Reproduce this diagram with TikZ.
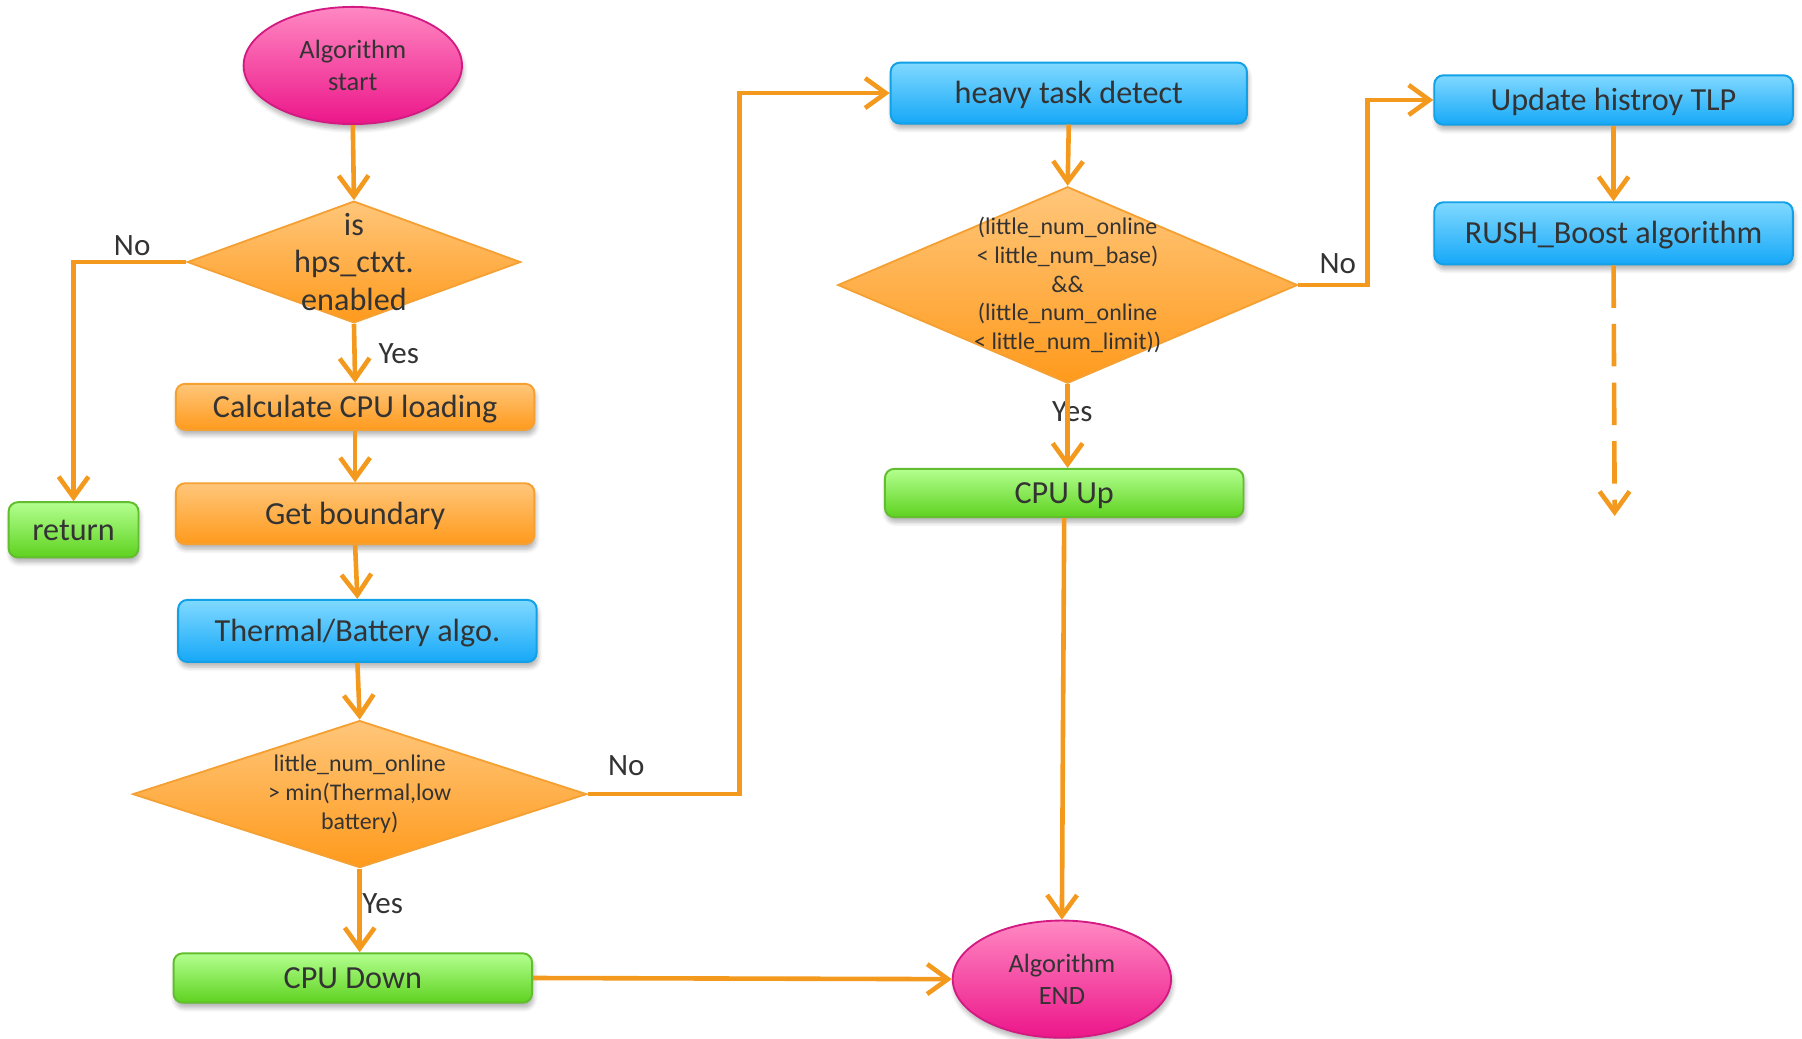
\documentclass[tikz,border=0pt]{standalone}
\usepackage{fontspec}
\setmainfont{Carlito}
\usetikzlibrary{shapes.geometric, arrows.meta, shadows.blur}

\definecolor{txt}{HTML}{333333}
\definecolor{arr}{HTML}{F39A1E}
\definecolor{otop}{HTML}{FFC67A}
\definecolor{obot}{HTML}{FF9A1C}
\definecolor{obord}{HTML}{F5A033}
\definecolor{btop}{HTML}{80D9FF}
\definecolor{bbot}{HTML}{16A8F8}
\definecolor{bbord}{HTML}{12A0E6}
\definecolor{gtop}{HTML}{B3FF8F}
\definecolor{gbot}{HTML}{5ED21F}
\definecolor{gbord}{HTML}{62BE2E}
\definecolor{ptop}{HTML}{FF88C2}
\definecolor{pbot}{HTML}{EC168A}
\definecolor{pbord}{HTML}{D31A82}

\begin{document}
\begin{tikzpicture}[x=0.5pt, y=-0.5pt,
  flow/.style={draw=arr, line width=2pt, line join=miter,
    -{Straight Barb[length=9pt, width=13pt]}},
  dashflow/.style={flow, dash pattern=on 18.5pt off 7pt},
  soft/.style={blur shadow={shadow blur steps=6, shadow xshift=0.6pt,
    shadow yshift=-2.2pt, shadow opacity=30}},
  box/.style={rectangle, rounded corners=4pt, minimum width=156pt,
    inner sep=0pt, line width=0.85pt, text=txt,
    text height=11.5pt, text depth=2.5pt,
    font=\fontsize{14}{16}\selectfont, soft},
  obox/.style={box, draw=obord, top color=otop, bottom color=obot},
  bbox/.style={box, draw=bbord, top color=btop, bottom color=bbot},
  gbox/.style={box, draw=gbord, top color=gtop, bottom color=gbot},
  term/.style={ellipse, minimum width=95pt, minimum height=51pt,
    inner sep=0pt, draw=pbord, line width=0.8pt, top color=ptop,
    bottom color=pbot, text=txt, align=center,
    font=\fontsize{11.5}{14}\selectfont, soft},
  decide/.style={diamond, inner sep=0pt, draw=obord, line width=0.8pt,
    top color=otop, bottom color=obot},
  dtext/.style={text=txt, align=center, inner sep=0pt},
  tag/.style={text=txt, inner sep=0pt, font=\fontsize{13.5}{15}\selectfont}
]
\useasboundingbox (0,0) rectangle (1568,904);

% left column
\node[term] (start) at (307,57) {Algorithm\\start};
\node[decide, minimum width=145pt, minimum height=53pt,
  label={[dtext, font=\fontsize{14}{16.25}\selectfont]center:is\\hps\_ctxt.\\enabled}]
  (d1) at (308,228) {};
\node[gbox, minimum width=56.5pt, minimum height=24pt] (ret) at (64,461) {return};
\node[obox, minimum height=20pt] (calc) at (309,354) {Calculate CPU loading};
\node[obox, minimum height=26.5pt] (bound) at (309,447) {Get boundary};
\node[bbox, minimum height=27pt] (therm) at (311,549) {Thermal/Battery algo.};
\node[decide, minimum width=197.5pt, minimum height=64pt,
  label={[dtext, font=\fontsize{10.4}{12.75}\selectfont]center:little\_num\_online\\> min(Thermal,low\\battery)}]
  (d2) at (313,691) {};
\node[gbox, minimum height=21.5pt] (down) at (307,851) {CPU Down};

% middle column
\node[bbox, minimum width=155pt, minimum height=26.5pt] (heavy) at (930,81) {heavy task detect};
\node[decide, minimum width=200pt, minimum height=85.5pt,
  label={[dtext, font=\fontsize{10.4}{12.5}\selectfont]center:(little\_num\_online\\< little\_num\_base)\\\&\&\\(little\_num\_online\\< little\_num\_limit))}]
  (d3) at (929,248) {};
\node[gbox, minimum height=21pt] (up) at (926,429) {CPU Up};
\node[term] (stop) at (924,852) {Algorithm\\END};

% right column
\node[bbox, minimum height=21.5pt] (hist) at (1404,87) {Update histroy TLP};
\node[bbox, minimum height=27pt] (rush) at (1404,203) {RUSH\_Boost algorithm};
\coordinate (more) at (1405,449);

% branch labels
\node[tag] (no1) at (115,214) {No};
\node[tag] (yes1) at (347,308) {Yes};
\node[tag] (no2) at (545,666) {No};
\node[tag] (yes2) at (333,786) {Yes};
\node[tag] (no3) at (1164,229) {No};
\node[tag] (yes3) at (933,358) {Yes};

% connectors
\draw[flow] (start.south) -- (d1.north);
\draw[flow] (d1.west) -| (ret.north);
\draw[flow] (d1.south) -- (calc.north);
\draw[flow] (calc.south) -- (bound.north);
\draw[flow] (bound.south) -- (therm.north);
\draw[flow] (therm.south) -- (d2.north);
\draw[flow] (d2.south) -- (d2.south |- down.north);
\draw[flow] (d2.east) -- ++(132,0) |- (heavy.west);
\draw[flow] (down.east) -- (stop.west);
\draw[flow] (heavy.south) -- (d3.north);
\draw[flow] (d3.south) -- (d3.south |- up.north);
\draw[flow] (up.south) -- (stop.north);
\draw[flow] (d3.east) -- ++(60,0) |- (hist.west);
\draw[flow] (hist.south) -- (rush.north);
\draw[dashflow] (rush.south) -- (more);
\end{tikzpicture}
\end{document}
